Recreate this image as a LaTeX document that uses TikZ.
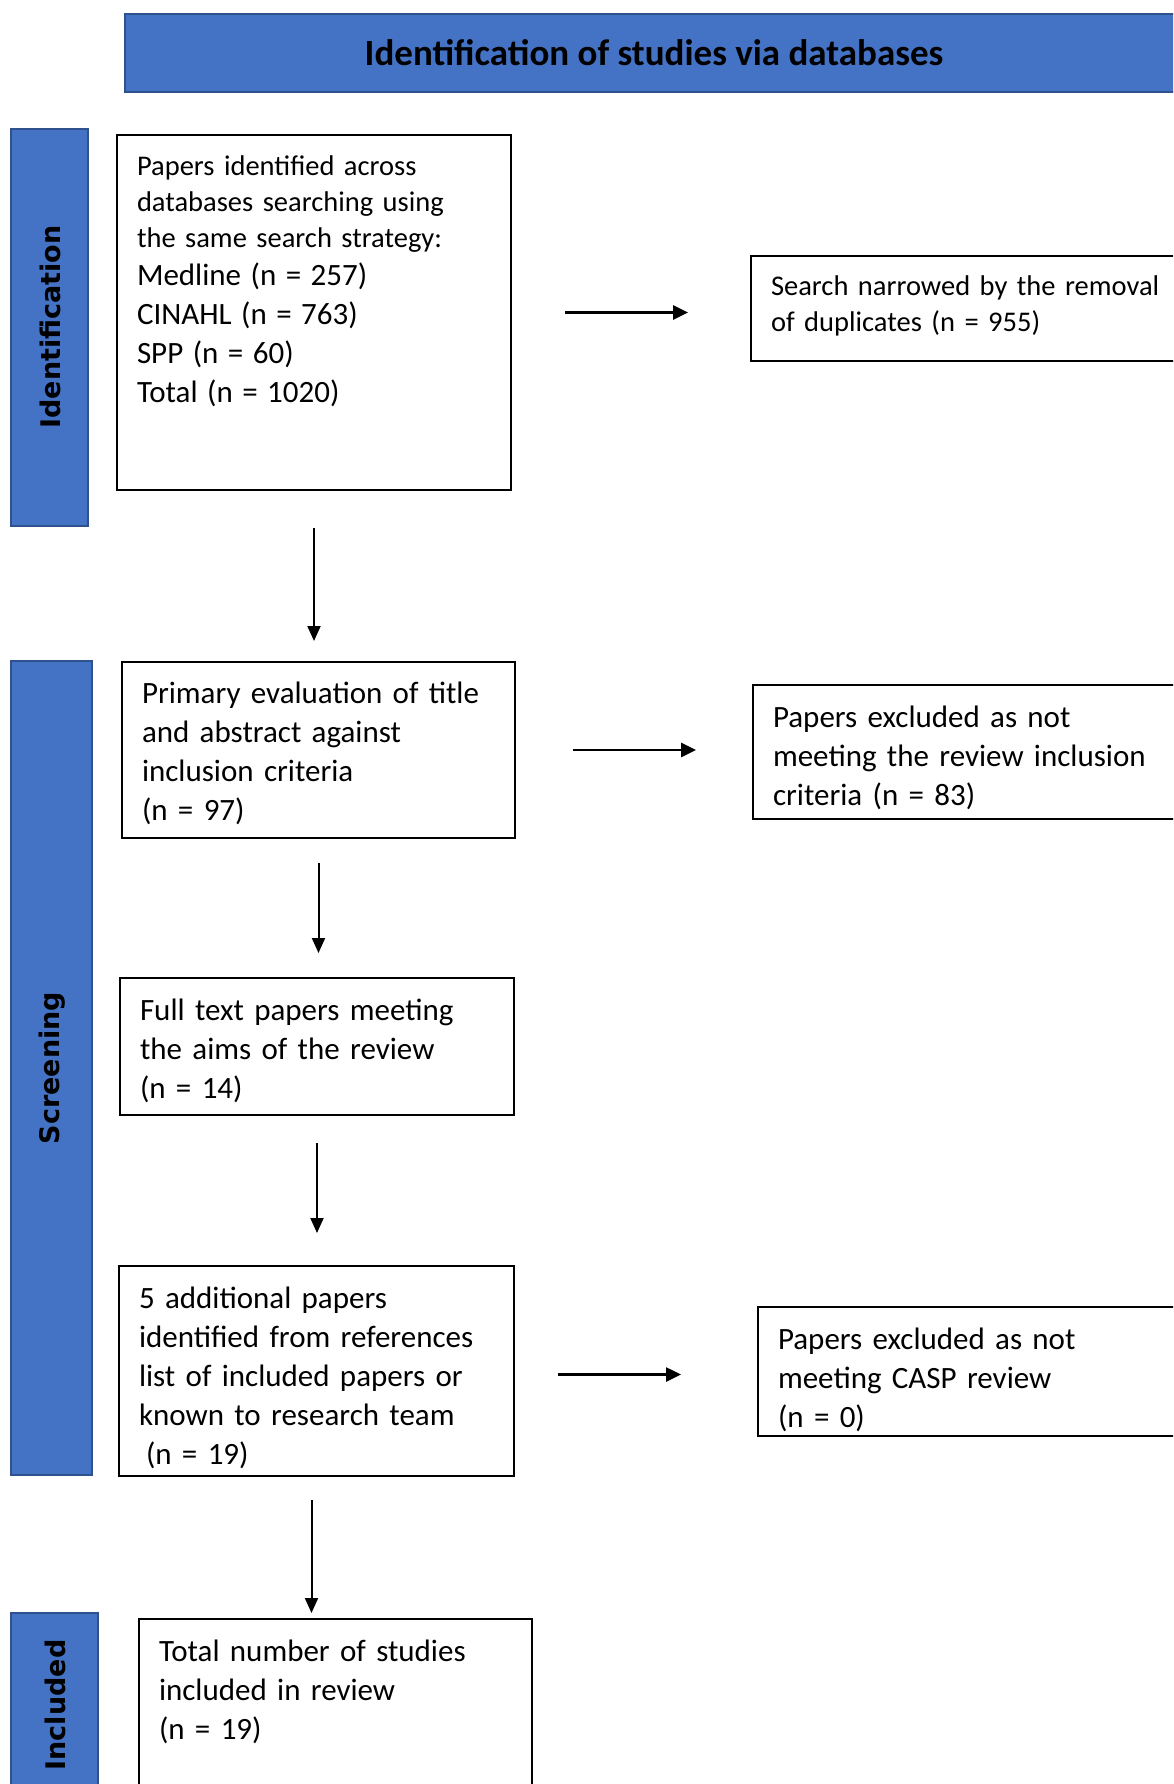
\documentclass[tikz,border=0pt]{standalone}
\usepackage{fontspec}
\setmainfont{Carlito}
\newfontfamily\sidefont{DejaVu Sans}
\usepackage{tikz}
\usetikzlibrary{arrows.meta}
\definecolor{PrismaBlue}{HTML}{4472C4}
\definecolor{PrismaEdge}{HTML}{2F528F}
\tikzset{
  box/.style={draw,line width=2pt,align=left,anchor=north west,inner xsep=20pt,inner ysep=0pt,font=\fontsize{31}{39}\selectfont},
  band/.style={draw=PrismaEdge,line width=2.5pt,fill=PrismaBlue},
  side/.style={rotate=90,font=\sidefont\bfseries\fontsize{27}{32}\selectfont},
  arr/.style={-{Triangle[length=15pt,width=13pt]},line width=2pt},
  harr/.style={-{Triangle[length=15pt,width=14pt]},line width=2.6pt},
}
\newcommand{\bigline}[1]{{\fontsize{31}{39}\selectfont #1}}

\begin{document}
\begin{tikzpicture}[x=1pt,y=-1pt]
\useasboundingbox (0,0) rectangle (1173,1784);
\clip (0,0) rectangle (1173,1784);
\fill[white] (0,0) rectangle (1173,1784);
\draw[band] (125,14) rectangle (1185,92);
\node[font=\bfseries\fontsize{37}{44}\selectfont] (title) at (654,53) {Identification of studies via databases};
\draw[band] (11,129) rectangle (88,526);
\node[side] (ident) at (50,327) {Identification};
\draw[band] (11,661) rectangle (92,1475);
\node[side] (screen) at (52,1068) {Screening};
\draw[band] (11,1613) rectangle (98,1820);
\node[side] (incl) at (55,1705) {Included};
\node[box,text width=354pt,minimum height=355pt,text depth=293pt,font=\fontsize{28.5}{36}\selectfont] (search) at (116,134)
  {Papers identified across\\ databases searching using\\ the same search strategy:\\[1.5pt]
   \bigline{Medline (n = 257)}\\[3pt] \bigline{CINAHL (n = 763)}\\[3pt]
   \bigline{SPP (n = 60)}\\[3pt] \bigline{Total (n = 1020)}};
\node[box,text width=420pt,minimum height=105pt,text depth=45pt,font=\fontsize{28.5}{36}\selectfont] (dupl) at (750,255)
  {Search narrowed by the removal\\ of duplicates (n = 955)};
\node[box,text width=353pt,minimum height=176pt,text depth=115pt] (prim) at (121,661)
  {Primary evaluation of title\\ and abstract against\\ inclusion criteria\\ (n = 97)};
\node[box,text width=420pt,minimum height=134pt,text depth=70pt] (excl) at (752,684)
  {Papers excluded as not\\ meeting the review inclusion\\ criteria (n = 83)};
\node[box,text width=354pt,minimum height=137pt,text depth=74pt] (full) at (119,977)
  {Full text papers meeting\\ the aims of the review\\ (n = 14)};
\node[box,text width=355pt,minimum height=210pt,text depth=147pt] (addl) at (118,1265)
  {5 additional papers\\ identified from references\\ list of included papers or\\ known to research team\\ \hspace*{7pt}(n = 19)};
\node[box,text width=415pt,minimum height=129pt,text depth=65pt] (casp) at (757,1306)
  {Papers excluded as not\\ meeting CASP review\\ (n = 0)};
\node[box,text width=353pt,minimum height=200pt,text depth=137pt] (total) at (138,1618)
  {Total number of studies\\ included in review\\ (n = 19)};
\coordinate (castx) at ([yshift=-3.5pt]addl.east);
\coordinate (dropx) at ([xshift=-5pt]addl.south);
\draw[harr,shorten <=53pt,shorten >=62pt] (search.east) -- (search.east -| dupl.west);
\draw[arr,shorten <=37pt,shorten >=20pt] (search.south) -- (search.south |- prim.north);
\draw[harr,shorten <=57pt,shorten >=56pt] (prim.east) -- (prim.east -| excl.west);
\draw[arr,shorten <=24pt,shorten >=24pt] (prim.south) -- (prim.south |- full.north);
\draw[arr,shorten <=27pt,shorten >=32pt] (full.south) -- (full.south |- addl.north);
\draw[harr,shorten <=43pt,shorten >=76pt] (castx) -- (castx -| casp.west);
\draw[arr,shorten <=23pt,shorten >=5pt] (dropx) -- (dropx |- total.north);
\end{tikzpicture}
\end{document}
